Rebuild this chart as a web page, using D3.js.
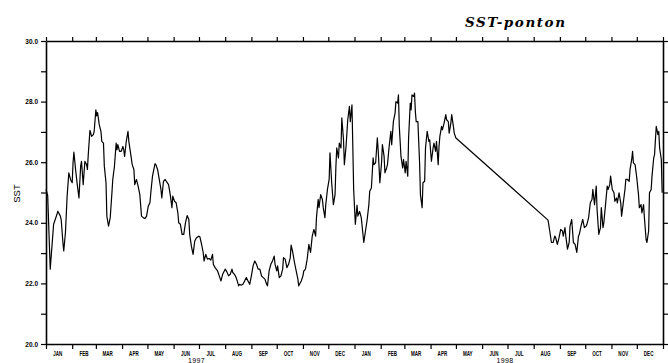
<!DOCTYPE html>
<html>
<head>
<meta charset="utf-8">
<script src="https://cdn.jsdelivr.net/npm/d3@7"></script>
<style>
  body { margin: 0; background: #fff; }
  svg { display: block; }
</style>
</head>
<body>
<svg id="chart" width="668" height="363"></svg>
<script>
// Daily sea surface temperature at the pontoon, 1997-1998.
// days: offset in days from 1 Jan 1997; sst: temperature (deg C)
const days = [
  0, 2, 5, 9, 13, 14, 17, 18, 20, 21, 23, 25, 27, 29, 31, 32, 33, 35, 37, 39,
  41, 42, 44, 46, 48, 49, 50, 52, 54, 56, 57, 59, 60, 61, 63, 65, 66, 68, 69, 71,
  72, 74, 76, 78, 79, 81, 83, 84, 85, 87, 89, 91, 92, 93, 95, 97, 98, 100, 102, 104,
  105, 107, 109, 111, 113, 115, 117, 119, 121, 123, 124, 126, 129, 130, 132, 134, 136, 137, 139, 141,
  143, 145, 147, 149, 150, 152, 154, 156, 157, 159, 161, 163, 165, 167, 169, 170, 172, 174, 176, 178,
  181, 182, 184, 186, 187, 189, 191, 193, 195, 197, 198, 200, 203, 205, 207, 209, 212, 214, 216, 218,
  220, 221, 223, 225, 228, 229, 231, 233, 235, 237, 239, 241, 243, 245, 247, 249, 251, 253, 255, 257,
  259, 261, 262, 264, 266, 268, 270, 271, 273, 274, 276, 278, 280, 281, 283, 285, 287, 289, 290, 292,
  294, 296, 298, 299, 302, 304, 305, 307, 309, 311, 313, 315, 317, 319, 320, 322, 323, 325, 327, 328,
  330, 331, 333, 335, 336, 338, 340, 342, 343, 344, 346, 347, 349, 350, 352, 353, 355, 357, 359, 360,
  362, 363, 364, 366, 368, 369, 371, 373, 376, 378, 380, 382, 383, 385, 387, 388, 390, 392, 393, 395,
  397, 398, 400, 401, 403, 404, 406, 408, 409, 411, 413, 414, 416, 417, 418, 420, 422, 423, 425, 426,
  428, 429, 431, 432, 433, 435, 436, 437, 438, 440, 442, 443, 445, 446, 448, 449, 451, 453, 454, 456,
  458, 459, 461, 462, 464, 465, 466, 468, 469, 471, 473, 474, 476, 477, 479, 480, 482, 483, 485,
  594, 596, 598, 600, 602, 603, 605, 607, 609, 611, 612, 614, 615, 617, 619, 620, 622, 624, 626, 628,
  630, 631, 633, 635, 637, 639, 640, 642, 644, 646, 647, 649, 651, 652, 654, 656, 657, 659, 660, 662,
  664, 665, 667, 668, 670, 672, 673, 675, 676, 678, 680, 681, 683, 685, 686, 688, 690, 691, 693, 694,
  695, 697, 699, 701, 702, 704, 705, 707, 708, 710, 711, 713, 714, 716, 717, 719, 720, 722, 724, 725,
  726, 728, 729
];
const sst = [
  25.10, 24.90, 22.47, 23.95, 24.28, 24.38, 24.22, 24.10, 23.35, 23.07, 23.68, 24.88, 25.65, 25.43, 25.32, 25.98, 26.33, 25.76, 25.26, 24.82,
  25.87, 26.03, 25.26, 26.03, 25.92, 25.76, 26.25, 27.05, 26.85, 26.91, 27.02, 27.73, 27.53, 27.64, 27.24, 27.02, 26.69, 26.63, 25.87, 25.32,
  24.22, 23.89, 24.17, 24.99, 25.43, 25.87, 26.63, 26.41, 26.58, 26.36, 26.36, 26.52, 26.41, 26.19, 26.69, 27.02, 26.69, 26.31, 25.92, 25.76,
  25.26, 25.43, 25.21, 24.93, 24.22, 24.17, 24.14, 24.22, 24.55, 24.66, 24.99, 25.54, 25.95, 25.92, 25.76, 25.43, 25.10, 24.82, 25.37, 25.43,
  25.34, 25.26, 24.93, 24.50, 24.88, 24.71, 24.66, 24.33, 24.00, 23.95, 23.62, 23.62, 24.00, 24.24, 24.11, 23.62, 23.23, 22.96, 23.40, 23.51,
  23.56, 23.54, 23.30, 23.02, 22.74, 22.96, 22.80, 22.82, 22.77, 22.96, 22.63, 22.52, 22.41, 22.25, 22.08, 22.30, 22.47, 22.38, 22.25, 22.30,
  22.47, 22.36, 22.30, 22.19, 21.92, 21.97, 21.94, 21.97, 22.08, 22.19, 22.08, 21.97, 22.25, 22.58, 22.74, 22.63, 22.47, 22.47, 22.25, 22.19,
  22.14, 21.97, 21.92, 22.41, 22.63, 22.74, 22.90, 22.63, 22.41, 22.58, 22.19, 22.25, 22.47, 22.85, 22.80, 22.52, 22.63, 22.85, 23.26, 23.02,
  22.69, 22.41, 22.14, 21.92, 22.08, 22.25, 22.41, 22.47, 22.80, 23.29, 23.02, 23.56, 23.78, 23.56, 24.17, 24.77, 24.50, 24.93, 24.77, 24.50,
  24.17, 24.60, 25.10, 25.43, 26.31, 25.32, 24.60, 24.93, 25.87, 26.47, 26.14, 26.63, 26.47, 27.46, 26.74, 25.92, 26.52, 27.40, 27.84, 27.34,
  27.89, 26.52, 25.10, 23.95, 24.58, 24.22, 24.38, 24.17, 23.35, 23.73, 24.11, 24.60, 25.04, 25.15, 26.14, 25.92, 25.98, 26.80, 26.41, 25.32,
  25.98, 26.58, 26.19, 25.65, 25.81, 25.92, 26.52, 27.02, 26.58, 27.34, 27.62, 28.00, 27.95, 28.22, 27.18, 26.19, 25.81, 26.09, 25.65, 26.03,
  25.54, 26.80, 27.95, 27.73, 28.22, 28.17, 28.28, 27.67, 27.34, 27.34, 25.98, 24.93, 24.50, 25.32, 25.37, 26.47, 27.02, 26.69, 26.74, 26.03,
  26.47, 26.63, 26.36, 26.69, 25.92, 26.52, 26.85, 27.18, 27.07, 27.29, 27.57, 27.40, 27.34, 26.96, 27.29, 27.57, 27.18, 26.96, 26.80,
  24.09, 23.73, 23.35, 23.35, 23.56, 23.51, 23.29, 23.51, 23.78, 23.73, 23.56, 23.84, 23.56, 23.13, 23.35, 23.89, 24.11, 23.35, 23.29, 23.02,
  23.56, 23.62, 23.89, 24.11, 23.84, 23.89, 23.95, 24.17, 24.66, 24.77, 25.10, 24.60, 25.21, 24.44, 23.62, 23.84, 24.50, 23.84, 24.00, 24.60,
  25.21, 25.10, 25.26, 25.54, 25.10, 24.99, 24.71, 24.82, 24.66, 24.99, 24.66, 24.22, 24.66, 25.10, 25.43, 25.43, 25.37, 25.76, 26.09, 26.36,
  25.98, 25.92, 25.48, 24.93, 24.50, 24.60, 24.33, 24.60, 24.17, 23.45, 23.35, 23.73, 24.99, 25.10, 25.54, 26.14, 26.25, 27.18, 26.91, 27.02,
  26.47, 26.09, 24.99
];

const monthLabels = ["JAN", "FEB", "MAR", "APR", "MAY", "JUN", "JUL", "AUG", "SEP", "OCT", "NOV", "DEC"];
const years = [1997, 1998];
const yTickValues = [20, 22, 24, 26, 28, 30];
const yTickLabels = ["20.0", "22.0", "24.0", "26.0", "28.0", "30.0"];
const titleText = "SST-ponton";
const yTitle = "SST";

const svg = d3.select("#chart");
const start = new Date(1997, 0, 1);
const end = new Date(1999, 0, 1);

const x = d3.scaleTime().domain([start, end]).range([46, 663]);
const y = d3.scaleLinear().domain([20, 30]).range([344, 41]);

const dayDate = d => new Date(1997, 0, 1 + d);
const series = days.map((d, i) => ({ date: dayDate(d), value: sst[i] }));

const sans = "'Liberation Sans', Arial, sans-serif";

// Frame axes: month ticks top and bottom, unit ticks left and right
const months = d3.timeMonth.every(1);
const gBottom = svg.append("g").attr("transform", "translate(0,344)")
  .call(d3.axisBottom(x).ticks(months).tickSize(5).tickSizeOuter(0).tickFormat(""));
const gTop = svg.append("g").attr("transform", "translate(0,41)")
  .call(d3.axisTop(x).ticks(months).tickSize(4).tickSizeOuter(0).tickFormat(""));

const labelFor = v => {
  const i = yTickValues.indexOf(v);
  return i >= 0 ? yTickLabels[i] : "";
};
const gLeft = svg.append("g").attr("transform", "translate(46,0)")
  .call(d3.axisLeft(y).tickValues(d3.range(20, 31, 1)).tickSize(5).tickSizeOuter(0)
    .tickPadding(3).tickFormat(labelFor));
const gRight = svg.append("g").attr("transform", "translate(663,0)")
  .call(d3.axisRight(y).tickValues(d3.range(20, 31, 1)).tickSize(5).tickSizeOuter(0).tickFormat(""));

[gBottom, gTop, gLeft, gRight].forEach(g => {
  g.select(".domain").attr("stroke", "#000").attr("stroke-width", 1.6);
  g.selectAll(".tick line").attr("stroke", "#000").attr("stroke-width", 1.2);
});
gLeft.selectAll(".tick text")
  .attr("fill", "#000")
  .style("font-family", sans)
  .style("font-size", "6.5px")
  .style("font-weight", "bold");

// Month names centred under each month, year under mid-year
const monthStarts = d3.timeMonth.range(start, end);
svg.append("g").selectAll("text")
  .data(monthStarts)
  .join("text")
  .attr("transform", d => {
    const mid = new Date(d.getFullYear(), d.getMonth(), 15);
    return `translate(${x(mid)},355.5) scale(0.7,1)`;
  })
  .attr("text-anchor", "middle")
  .attr("fill", "#000")
  .style("font-family", sans)
  .style("font-size", "6.5px")
  .style("font-weight", "bold")
  .text(d => monthLabels[d.getMonth()]);

svg.append("g").selectAll("text")
  .data(years)
  .join("text")
  .attr("x", yr => x(new Date(yr, 5, 28)))
  .attr("y", 362.5)
  .attr("text-anchor", "middle")
  .attr("fill", "#000")
  .style("font-family", sans)
  .style("font-size", "7px")
  .style("letter-spacing", "0.3px")
  .text(yr => String(yr));

// Y axis title
svg.append("text")
  .attr("transform", "translate(19.5,193.5) rotate(-90)")
  .attr("text-anchor", "middle")
  .attr("fill", "#000")
  .style("font-family", sans)
  .style("font-size", "9.5px")
  .text(yTitle);

// Plot title
svg.append("text")
  .attr("x", 465)
  .attr("y", 27)
  .attr("textLength", 100)
  .attr("lengthAdjust", "spacing")
  .attr("fill", "#000")
  .style("font-family", "'DejaVu Serif', 'Liberation Serif', serif")
  .style("font-size", "13.5px")
  .style("font-weight", "bold")
  .style("font-style", "italic")
  .text(titleText);

// Temperature series
const line = d3.line()
  .x(d => x(d.date))
  .y(d => y(d.value));

svg.append("path")
  .datum(series)
  .attr("fill", "none")
  .attr("stroke", "#000")
  .attr("stroke-width", 1.2)
  .attr("stroke-linejoin", "round")
  .attr("d", line);
</script>
</body>
</html>
